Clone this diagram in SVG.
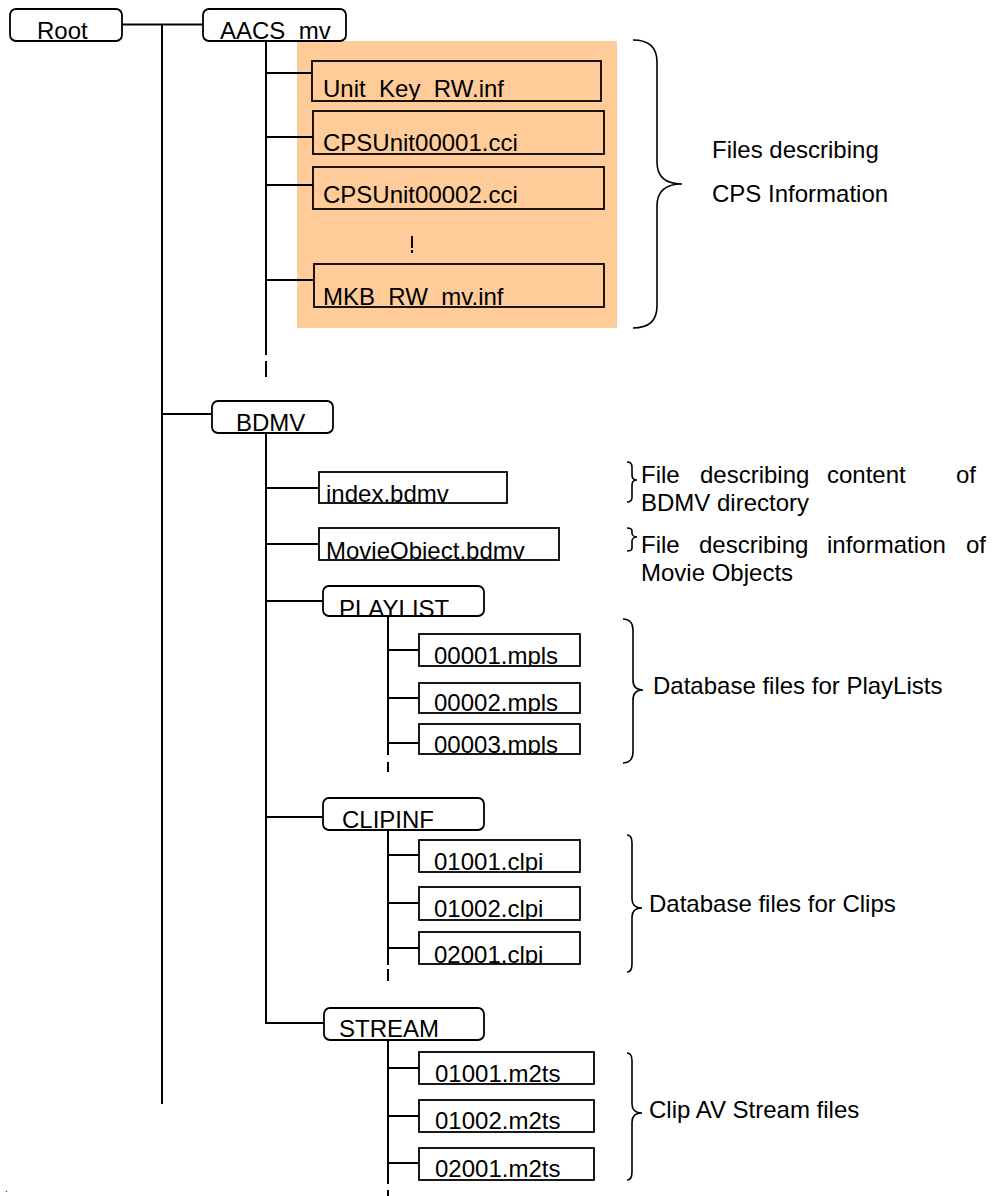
<svg xmlns="http://www.w3.org/2000/svg" width="992" height="1196" viewBox="0 0 992 1196">
<style>
text{font-family:"Liberation Sans",Arial,sans-serif;font-size:24px;fill:#000}
.ln{stroke:#000;stroke-width:2;fill:none}
.dash{stroke:#000;stroke-width:2;fill:none}
.box{stroke:#000;stroke-width:1.8;fill:none}
.brace{stroke:#000;stroke-width:1.6;fill:none}
</style>
<defs>
<clipPath id="cRoot"><rect x="10" y="9" width="112" height="32"/></clipPath>
<clipPath id="cAACS"><rect x="203" y="9" width="143" height="32"/></clipPath>
<clipPath id="cUK"><rect x="312" y="61" width="289" height="40"/></clipPath>
<clipPath id="cC1"><rect x="313" y="111" width="291" height="43"/></clipPath>
<clipPath id="cC2"><rect x="313" y="167" width="291" height="42"/></clipPath>
<clipPath id="cMKB"><rect x="314" y="264" width="290" height="43"/></clipPath>
<clipPath id="cBDMV"><rect x="212" y="401" width="121" height="32"/></clipPath>
<clipPath id="cIdx"><rect x="319" y="472" width="188" height="31"/></clipPath>
<clipPath id="cMO"><rect x="319" y="528" width="240" height="32"/></clipPath>
<clipPath id="cPL"><rect x="323" y="586" width="161" height="30"/></clipPath>
<clipPath id="cM1"><rect x="419" y="634" width="161" height="32"/></clipPath>
<clipPath id="cM2"><rect x="419" y="683" width="161" height="30"/></clipPath>
<clipPath id="cM3"><rect x="419" y="724" width="161" height="30"/></clipPath>
<clipPath id="cCI"><rect x="323" y="798" width="161" height="32"/></clipPath>
<clipPath id="cP1"><rect x="419" y="840" width="161" height="32"/></clipPath>
<clipPath id="cP2"><rect x="419" y="887" width="161" height="33"/></clipPath>
<clipPath id="cP3"><rect x="419" y="932" width="161" height="32"/></clipPath>
<clipPath id="cST"><rect x="324" y="1008" width="160" height="32"/></clipPath>
<clipPath id="cS1"><rect x="419" y="1052" width="175" height="32"/></clipPath>
<clipPath id="cS2"><rect x="419" y="1100" width="175" height="32"/></clipPath>
<clipPath id="cS3"><rect x="419" y="1148" width="175" height="32"/></clipPath>
</defs>

<rect id="cps-area" x="297" y="41" width="320" height="287" fill="#FFCC99"/>

<g id="connectors">
<line class="ln" x1="162" y1="24" x2="162" y2="1104"/>
<line class="ln" x1="122" y1="24.5" x2="203" y2="24.5"/>
<line class="ln" x1="266" y1="41" x2="266" y2="355"/>
<line class="dash" x1="266" y1="361" x2="266" y2="377"/>
<line class="ln" x1="266" y1="73" x2="312" y2="73"/>
<line class="ln" x1="266" y1="137" x2="313" y2="137"/>
<line class="ln" x1="266" y1="185" x2="313" y2="185"/>
<line class="ln" x1="266" y1="280" x2="314" y2="280"/>
<line class="ln" x1="412" y1="236" x2="412" y2="248"/>
<line class="ln" x1="412" y1="250" x2="412" y2="253"/>
<line class="ln" x1="162" y1="414" x2="212" y2="414"/>
<line class="ln" x1="266" y1="433" x2="266" y2="1024"/>
<line class="ln" x1="265" y1="1023" x2="324" y2="1023"/>
<line class="ln" x1="266" y1="488" x2="319" y2="488"/>
<line class="ln" x1="266" y1="544" x2="319" y2="544"/>
<line class="ln" x1="266" y1="601" x2="323" y2="601"/>
<line class="ln" x1="266" y1="817" x2="323" y2="817"/>
<line class="ln" x1="388" y1="616" x2="388" y2="755"/>
<line class="dash" x1="388" y1="762" x2="388" y2="772"/>
<line class="ln" x1="388" y1="650" x2="419" y2="650"/>
<line class="ln" x1="388" y1="698" x2="419" y2="698"/>
<line class="ln" x1="388" y1="743" x2="419" y2="743"/>
<line class="ln" x1="388" y1="830" x2="388" y2="965"/>
<line class="dash" x1="388" y1="969" x2="388" y2="981"/>
<line class="ln" x1="388" y1="855" x2="419" y2="855"/>
<line class="ln" x1="388" y1="903" x2="419" y2="903"/>
<line class="ln" x1="388" y1="948" x2="419" y2="948"/>
<line class="ln" x1="388" y1="1040" x2="388" y2="1184"/>
<line class="dash" x1="388" y1="1190" x2="388" y2="1196"/>
<line class="ln" x1="388" y1="1068" x2="419" y2="1068"/>
<line class="ln" x1="388" y1="1116" x2="419" y2="1116"/>
<line class="ln" x1="388" y1="1163" x2="419" y2="1163"/>
</g>

<g id="root"><text x="37" y="39" clip-path="url(#cRoot)">Root</text><rect class="box" x="10" y="9" width="112" height="32" rx="6"/></g>
<g id="aacs"><text x="220" y="39" clip-path="url(#cAACS)">AACS_mv</text><rect class="box" x="203" y="9" width="143" height="32" rx="6"/></g>
<g id="unitkey"><text x="323" y="97" clip-path="url(#cUK)">Unit_Key_RW.inf</text><rect class="box" x="312" y="61" width="289" height="40"/></g>
<g id="cps1"><text x="323" y="151" clip-path="url(#cC1)">CPSUnit00001.cci</text><rect class="box" x="313" y="111" width="291" height="43"/></g>
<g id="cps2"><text x="323" y="203" clip-path="url(#cC2)">CPSUnit00002.cci</text><rect class="box" x="313" y="167" width="291" height="42"/></g>
<g id="mkb"><text x="323" y="305" clip-path="url(#cMKB)">MKB_RW_mv.inf</text><rect class="box" x="314" y="264" width="290" height="43"/></g>
<g id="bdmv"><text x="236" y="431" clip-path="url(#cBDMV)">BDMV</text><rect class="box" x="212" y="401" width="121" height="32" rx="6"/></g>
<g id="index"><text x="326" y="502" clip-path="url(#cIdx)">index.bdmv</text><rect class="box" x="319" y="472" width="188" height="31"/></g>
<g id="movieobject"><text x="326" y="559" clip-path="url(#cMO)">MovieObject.bdmv</text><rect class="box" x="319" y="528" width="240" height="32"/></g>
<g id="playlist"><text x="339" y="617" clip-path="url(#cPL)">PLAYLIST</text><rect class="box" x="323" y="586" width="161" height="30" rx="6"/></g>
<g id="mpls1"><text x="434" y="664" clip-path="url(#cM1)">00001.mpls</text><rect class="box" x="419" y="634" width="161" height="32"/></g>
<g id="mpls2"><text x="434" y="711" clip-path="url(#cM2)">00002.mpls</text><rect class="box" x="419" y="683" width="161" height="30"/></g>
<g id="mpls3"><text x="434" y="753" clip-path="url(#cM3)">00003.mpls</text><rect class="box" x="419" y="724" width="161" height="30"/></g>
<g id="clipinf"><text x="342" y="828" clip-path="url(#cCI)">CLIPINF</text><rect class="box" x="323" y="798" width="161" height="32" rx="6"/></g>
<g id="clpi1"><text x="434" y="870" clip-path="url(#cP1)">01001.clpi</text><rect class="box" x="419" y="840" width="161" height="32"/></g>
<g id="clpi2"><text x="434" y="917" clip-path="url(#cP2)">01002.clpi</text><rect class="box" x="419" y="887" width="161" height="33"/></g>
<g id="clpi3"><text x="434" y="963" clip-path="url(#cP3)">02001.clpi</text><rect class="box" x="419" y="932" width="161" height="32"/></g>
<g id="stream"><text x="339" y="1037" clip-path="url(#cST)">STREAM</text><rect class="box" x="324" y="1008" width="160" height="32" rx="6"/></g>
<g id="m2ts1"><text x="435" y="1082" clip-path="url(#cS1)">01001.m2ts</text><rect class="box" x="419" y="1052" width="175" height="32"/></g>
<g id="m2ts2"><text x="435" y="1129" clip-path="url(#cS2)">01002.m2ts</text><rect class="box" x="419" y="1100" width="175" height="32"/></g>
<g id="m2ts3"><text x="435" y="1177" clip-path="url(#cS3)">02001.m2ts</text><rect class="box" x="419" y="1148" width="175" height="32"/></g>

<g id="annotations">
<path class="brace" d="M633,40 C648,40 657,47 657,62 L657,162 C657,177 665,184 682,184 C665,184 657,191 657,206 L657,306 C657,321 648,328 633,328"/>
<text x="712" y="158">Files describing</text>
<text x="712" y="202">CPS Information</text>

<path class="brace" d="M627,462 C630,462 632,464 632,467 L632,475 C632,478 634,480 637,480 C634,480 632,482 632,485 L632,497 C632,500 630,502 627,502"/>
<text y="483"><tspan x="641">File</tspan><tspan x="700">describing</tspan><tspan x="827">content</tspan><tspan x="956">of</tspan></text>
<text x="641" y="511">BDMV directory</text>

<path class="brace" d="M627,528 C630,528 632,529 632,531 L632,533 C632,535 634,537 637,537 C634,537 632,539 632,541 L632,548 C632,550 630,551 627,551"/>
<text y="553"><tspan x="641">File</tspan><tspan x="699">describing</tspan><tspan x="827">information</tspan><tspan x="966">of</tspan></text>
<text x="641" y="581">Movie Objects</text>

<path class="brace" d="M623,619 C629,619 633,623 633,630 L633,680 C633,687 637,690 643,690 C637,690 633,693 633,700 L633,752 C633,759 629,763 623,763"/>
<text x="653" y="694">Database files for PlayLists</text>

<path class="brace" d="M627,835 C630,835 632,838 632,843 L632,899 C632,905 636,908 642,908 C636,908 632,911 632,917 L632,964 C632,969 630,972 627,972"/>
<text x="649" y="912">Database files for Clips</text>

<path class="brace" d="M627,1053 C630,1053 632,1056 632,1061 L632,1104 C632,1110 636,1113 642,1113 C636,1113 632,1116 632,1122 L632,1172 C632,1177 630,1180 627,1180"/>
<text x="649" y="1118">Clip AV Stream files</text>

<text x="5" y="1192" style="font-size:10px">.</text>
</g>
</svg>
